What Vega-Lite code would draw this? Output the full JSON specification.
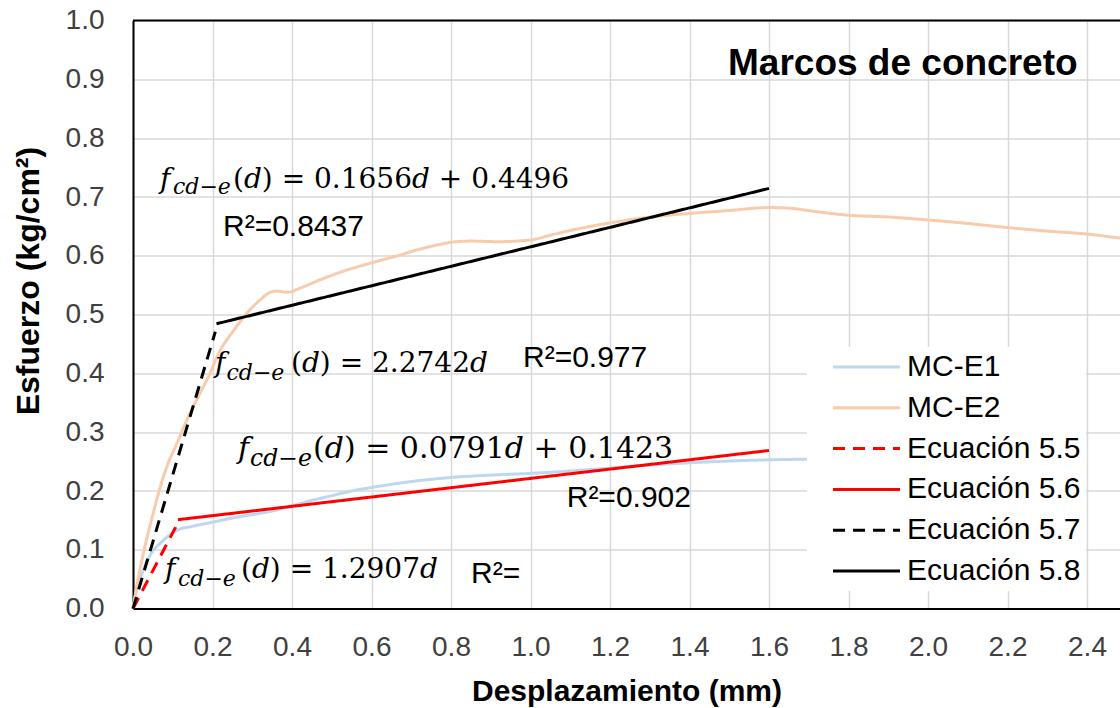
{
  "$schema": "https://vega.github.io/schema/vega-lite/v6.json",
  "width": 987,
  "height": 588,
  "autosize": {"type": "none"},
  "padding": {"left": 133, "top": 20.6, "right": 0, "bottom": 99.4},
  "background": "white",
  "config": {
    "view": {"stroke": null},
    "legend": {
      "orient": "none",
      "legendX": 674,
      "legendY": 326.4,
      "fillColor": "white",
      "padding": 5,
      "symbolType": "M6,0H73",
      "symbolSize": 4,
      "symbolStrokeWidth": 3,
      "symbolOffset": 0,
      "labelFont": "Liberation Sans",
      "labelFontSize": 30,
      "labelColor": "#000000",
      "labelOffset": 65,
      "labelLimit": 400,
      "rowPadding": 10.8
    }
  },
  "datasets": {
    "border": [{"x": 0, "x2": 2.483, "y": 1}],
    "curves": [
      {"series": "MC-E1", "x": 0, "y": 0},
      {"series": "MC-E1", "x": 0.01, "y": 0.035},
      {"series": "MC-E1", "x": 0.02, "y": 0.055},
      {"series": "MC-E1", "x": 0.035, "y": 0.08},
      {"series": "MC-E1", "x": 0.05, "y": 0.098},
      {"series": "MC-E1", "x": 0.07, "y": 0.112},
      {"series": "MC-E1", "x": 0.09, "y": 0.124},
      {"series": "MC-E1", "x": 0.11, "y": 0.133},
      {"series": "MC-E1", "x": 0.15, "y": 0.14},
      {"series": "MC-E1", "x": 0.2, "y": 0.147},
      {"series": "MC-E1", "x": 0.25, "y": 0.154},
      {"series": "MC-E1", "x": 0.3, "y": 0.16},
      {"series": "MC-E1", "x": 0.35, "y": 0.166},
      {"series": "MC-E1", "x": 0.4, "y": 0.175},
      {"series": "MC-E1", "x": 0.45, "y": 0.184},
      {"series": "MC-E1", "x": 0.5, "y": 0.192},
      {"series": "MC-E1", "x": 0.55, "y": 0.2},
      {"series": "MC-E1", "x": 0.6, "y": 0.206},
      {"series": "MC-E1", "x": 0.7, "y": 0.216},
      {"series": "MC-E1", "x": 0.8, "y": 0.223},
      {"series": "MC-E1", "x": 0.9, "y": 0.227},
      {"series": "MC-E1", "x": 1.0, "y": 0.23},
      {"series": "MC-E1", "x": 1.1, "y": 0.234},
      {"series": "MC-E1", "x": 1.2, "y": 0.239},
      {"series": "MC-E1", "x": 1.3, "y": 0.244},
      {"series": "MC-E1", "x": 1.4, "y": 0.248},
      {"series": "MC-E1", "x": 1.5, "y": 0.251},
      {"series": "MC-E1", "x": 1.6, "y": 0.253},
      {"series": "MC-E1", "x": 1.7, "y": 0.254},
      {"series": "MC-E1", "x": 1.75, "y": 0.254},
      {"series": "MC-E2", "x": 0, "y": 0},
      {"series": "MC-E2", "x": 0.01, "y": 0.04},
      {"series": "MC-E2", "x": 0.02, "y": 0.075},
      {"series": "MC-E2", "x": 0.035, "y": 0.12},
      {"series": "MC-E2", "x": 0.05, "y": 0.16},
      {"series": "MC-E2", "x": 0.07, "y": 0.21},
      {"series": "MC-E2", "x": 0.09, "y": 0.25},
      {"series": "MC-E2", "x": 0.11, "y": 0.28},
      {"series": "MC-E2", "x": 0.135, "y": 0.32},
      {"series": "MC-E2", "x": 0.16, "y": 0.355},
      {"series": "MC-E2", "x": 0.19, "y": 0.395},
      {"series": "MC-E2", "x": 0.22, "y": 0.44},
      {"series": "MC-E2", "x": 0.25, "y": 0.47},
      {"series": "MC-E2", "x": 0.29, "y": 0.505},
      {"series": "MC-E2", "x": 0.32, "y": 0.525},
      {"series": "MC-E2", "x": 0.345, "y": 0.538},
      {"series": "MC-E2", "x": 0.36, "y": 0.54},
      {"series": "MC-E2", "x": 0.39, "y": 0.538},
      {"series": "MC-E2", "x": 0.42, "y": 0.545},
      {"series": "MC-E2", "x": 0.47, "y": 0.559},
      {"series": "MC-E2", "x": 0.53, "y": 0.574},
      {"series": "MC-E2", "x": 0.6, "y": 0.588},
      {"series": "MC-E2", "x": 0.67, "y": 0.601},
      {"series": "MC-E2", "x": 0.72, "y": 0.611},
      {"series": "MC-E2", "x": 0.77, "y": 0.619},
      {"series": "MC-E2", "x": 0.8, "y": 0.623},
      {"series": "MC-E2", "x": 0.85, "y": 0.625},
      {"series": "MC-E2", "x": 0.92, "y": 0.624},
      {"series": "MC-E2", "x": 1.0, "y": 0.627},
      {"series": "MC-E2", "x": 1.05, "y": 0.635},
      {"series": "MC-E2", "x": 1.1, "y": 0.643},
      {"series": "MC-E2", "x": 1.2, "y": 0.656},
      {"series": "MC-E2", "x": 1.3, "y": 0.666},
      {"series": "MC-E2", "x": 1.4, "y": 0.672},
      {"series": "MC-E2", "x": 1.5, "y": 0.677},
      {"series": "MC-E2", "x": 1.6, "y": 0.682},
      {"series": "MC-E2", "x": 1.65, "y": 0.681},
      {"series": "MC-E2", "x": 1.72, "y": 0.675},
      {"series": "MC-E2", "x": 1.8, "y": 0.669},
      {"series": "MC-E2", "x": 1.9, "y": 0.666},
      {"series": "MC-E2", "x": 2.0, "y": 0.661},
      {"series": "MC-E2", "x": 2.1, "y": 0.655},
      {"series": "MC-E2", "x": 2.2, "y": 0.648},
      {"series": "MC-E2", "x": 2.3, "y": 0.642},
      {"series": "MC-E2", "x": 2.4, "y": 0.637},
      {"series": "MC-E2", "x": 2.483, "y": 0.63}
    ],
    "fits": [
      {"series": "Ecuación 5.5", "x": 0, "y": 0},
      {"series": "Ecuación 5.5", "x": 0.108, "y": 0.1394},
      {"series": "Ecuación 5.6", "x": 0.113, "y": 0.1512},
      {"series": "Ecuación 5.6", "x": 1.6, "y": 0.2689},
      {"series": "Ecuación 5.7", "x": 0, "y": 0},
      {"series": "Ecuación 5.7", "x": 0.207, "y": 0.4708},
      {"series": "Ecuación 5.8", "x": 0.21, "y": 0.4844},
      {"series": "Ecuación 5.8", "x": 1.6, "y": 0.7146}
    ],
    "notes": [
      {"kind": "it", "x": 0.0679, "y": 0.7153, "text": "f"},
      {"kind": "sub", "x": 0.1006, "y": 0.7051, "text": "cd−e"},
      {"kind": "up", "x": 0.25157, "y": 0.7153, "text": "("},
      {"kind": "it", "x": 0.27904, "y": 0.7153, "text": "d"},
      {"kind": "up", "x": 0.32413, "y": 0.7153, "text": ") = 0.1656"},
      {"kind": "it", "x": 0.70184, "y": 0.7153, "text": "d"},
      {"kind": "up", "x": 0.76931, "y": 0.7153, "text": "+ 0.4496"},
      {"kind": "r2", "x": 0.2264, "y": 0.6337, "text": "R²=0.8437"},
      {"kind": "it", "x": 0.2063, "y": 0.4024, "text": "f"},
      {"kind": "sub", "x": 0.2352, "y": 0.3888, "text": "cd−e"},
      {"kind": "up", "x": 0.39748, "y": 0.4024, "text": "("},
      {"kind": "it", "x": 0.42496, "y": 0.4024, "text": "d"},
      {"kind": "up", "x": 0.47004, "y": 0.4024, "text": ") = 2.2742"},
      {"kind": "it", "x": 0.84775, "y": 0.4024, "text": "d"},
      {"kind": "r2", "x": 0.9811, "y": 0.4109, "text": "R²=0.977"},
      {"kind": "it3", "x": 0.2642, "y": 0.2561, "text": "f"},
      {"kind": "sub3", "x": 0.2943, "y": 0.2425, "text": "cd−e"},
      {"kind": "up3", "x": 0.45283, "y": 0.2561, "text": "("},
      {"kind": "it3", "x": 0.48226, "y": 0.2561, "text": "d"},
      {"kind": "up3", "x": 0.53057, "y": 0.2561, "text": ") = 0.0791"},
      {"kind": "it3", "x": 0.93525, "y": 0.2561, "text": "d"},
      {"kind": "up3", "x": 1.00755, "y": 0.2561, "text": "+ 0.1423"},
      {"kind": "r2", "x": 1.0911, "y": 0.1723, "text": "R²=0.902"},
      {"kind": "it", "x": 0.0805, "y": 0.052, "text": "f"},
      {"kind": "sub", "x": 0.1132, "y": 0.0384, "text": "cd−e"},
      {"kind": "up", "x": 0.2717, "y": 0.052, "text": "("},
      {"kind": "it", "x": 0.29917, "y": 0.052, "text": "d"},
      {"kind": "up", "x": 0.34425, "y": 0.052, "text": ") = 1.2907"},
      {"kind": "it", "x": 0.72196, "y": 0.052, "text": "d"},
      {"kind": "r2", "x": 0.8503, "y": 0.0435, "text": "R²="},
      {"kind": "title", "x": 1.4969, "y": 0.9075, "text": "Marcos de concreto"}
    ]
  },
  "encoding": {
    "x": {
      "field": "x",
      "type": "quantitative",
      "scale": {"domain": [0, 2.483], "nice": false, "zero": false},
      "axis": {
        "values": [0, 0.2, 0.4, 0.6, 0.8, 1.0, 1.2, 1.4, 1.6, 1.8, 2.0, 2.2, 2.4],
        "format": ".1f",
        "title": "Desplazamiento (mm)",
        "ticks": false,
        "tickSize": 0,
        "labelPadding": 25,
        "labelFont": "Liberation Sans",
        "labelFontSize": 28,
        "labelColor": "#404040",
        "labelOverlap": false,
        "labelFlush": false,
        "domainColor": "#000000",
        "domainWidth": 2,
        "grid": true,
        "gridColor": "#d9d9d9",
        "gridWidth": 1.5,
        "titleFont": "Liberation Sans",
        "titleFontSize": 30,
        "titleFontWeight": "bold",
        "titleColor": "#000000",
        "titleY": 92,
        "titleBaseline": "alphabetic"
      }
    },
    "y": {
      "field": "y",
      "type": "quantitative",
      "scale": {"domain": [0, 1], "nice": false},
      "axis": {
        "values": [0, 0.1, 0.2, 0.3, 0.4, 0.5, 0.6, 0.7, 0.8, 0.9, 1.0],
        "format": ".1f",
        "title": "Esfuerzo (kg/cm²)",
        "ticks": false,
        "tickSize": 0,
        "labelPadding": 29,
        "labelFont": "Liberation Sans",
        "labelFontSize": 28,
        "labelColor": "#404040",
        "labelOverlap": false,
        "labelFlush": false,
        "domainColor": "#000000",
        "domainWidth": 2,
        "grid": true,
        "gridColor": "#d9d9d9",
        "gridWidth": 1.5,
        "titleFont": "Liberation Sans",
        "titleFontSize": 32,
        "titleFontWeight": "bold",
        "titleColor": "#000000",
        "titleX": -95,
        "titleY": 260,
        "titleBaseline": "alphabetic"
      }
    }
  },
  "layer": [
    {
      "data": {"name": "border"},
      "mark": {"type": "rule", "color": "#000000", "strokeWidth": 2},
      "encoding": {"x2": {"field": "x2"}}
    },
    {
      "data": {"name": "curves"},
      "mark": {"type": "line", "interpolate": "monotone", "strokeWidth": 3},
      "encoding": {
        "color": {
          "field": "series",
          "type": "nominal",
          "title": null,
          "scale": {
            "domain": ["MC-E1", "MC-E2", "Ecuación 5.5", "Ecuación 5.6", "Ecuación 5.7", "Ecuación 5.8"],
            "range": ["#bdd7ee", "#f8cbad", "#ff0000", "#ff0000", "#000000", "#000000"]
          }
        },
        "strokeDash": {
          "field": "series",
          "type": "nominal",
          "title": null,
          "scale": {
            "domain": ["MC-E1", "MC-E2", "Ecuación 5.5", "Ecuación 5.6", "Ecuación 5.7", "Ecuación 5.8"],
            "range": [[1, 0], [1, 0], [12, 8], [1, 0], [12, 8], [1, 0]]
          }
        }
      }
    },
    {
      "data": {"name": "fits"},
      "mark": {"type": "line", "strokeWidth": 3},
      "encoding": {
        "color": {"field": "series", "type": "nominal", "title": null},
        "strokeDash": {"field": "series", "type": "nominal", "title": null}
      }
    },
    {
      "data": {"name": "notes"},
      "transform": [{"filter": "datum.kind === 'it'"}],
      "mark": {"type": "text", "font": "DejaVu Serif", "fontSize": 28, "fontStyle": "italic", "align": "left", "baseline": "alphabetic", "color": "#000000"},
      "encoding": {"text": {"field": "text"}}
    },
    {
      "data": {"name": "notes"},
      "transform": [{"filter": "datum.kind === 'sub'"}],
      "mark": {"type": "text", "font": "DejaVu Serif", "fontSize": 22, "fontStyle": "italic", "align": "left", "baseline": "alphabetic", "color": "#000000"},
      "encoding": {"text": {"field": "text"}}
    },
    {
      "data": {"name": "notes"},
      "transform": [{"filter": "datum.kind === 'up'"}],
      "mark": {"type": "text", "font": "DejaVu Serif", "fontSize": 28, "align": "left", "baseline": "alphabetic", "color": "#000000"},
      "encoding": {"text": {"field": "text"}}
    },
    {
      "data": {"name": "notes"},
      "transform": [{"filter": "datum.kind === 'it3'"}],
      "mark": {"type": "text", "font": "DejaVu Serif", "fontSize": 30, "fontStyle": "italic", "align": "left", "baseline": "alphabetic", "color": "#000000"},
      "encoding": {"text": {"field": "text"}}
    },
    {
      "data": {"name": "notes"},
      "transform": [{"filter": "datum.kind === 'sub3'"}],
      "mark": {"type": "text", "font": "DejaVu Serif", "fontSize": 23.5, "fontStyle": "italic", "align": "left", "baseline": "alphabetic", "color": "#000000"},
      "encoding": {"text": {"field": "text"}}
    },
    {
      "data": {"name": "notes"},
      "transform": [{"filter": "datum.kind === 'up3'"}],
      "mark": {"type": "text", "font": "DejaVu Serif", "fontSize": 30, "align": "left", "baseline": "alphabetic", "color": "#000000"},
      "encoding": {"text": {"field": "text"}}
    },
    {
      "data": {"name": "notes"},
      "transform": [{"filter": "datum.kind === 'r2'"}],
      "mark": {"type": "text", "font": "Liberation Sans", "fontSize": 30, "align": "left", "baseline": "alphabetic", "color": "#000000"},
      "encoding": {"text": {"field": "text"}}
    },
    {
      "data": {"name": "notes"},
      "transform": [{"filter": "datum.kind === 'title'"}],
      "mark": {"type": "text", "font": "Liberation Sans", "fontSize": 37, "fontWeight": "bold", "align": "left", "baseline": "alphabetic", "color": "#000000"},
      "encoding": {"text": {"field": "text"}}
    }
  ]
}
